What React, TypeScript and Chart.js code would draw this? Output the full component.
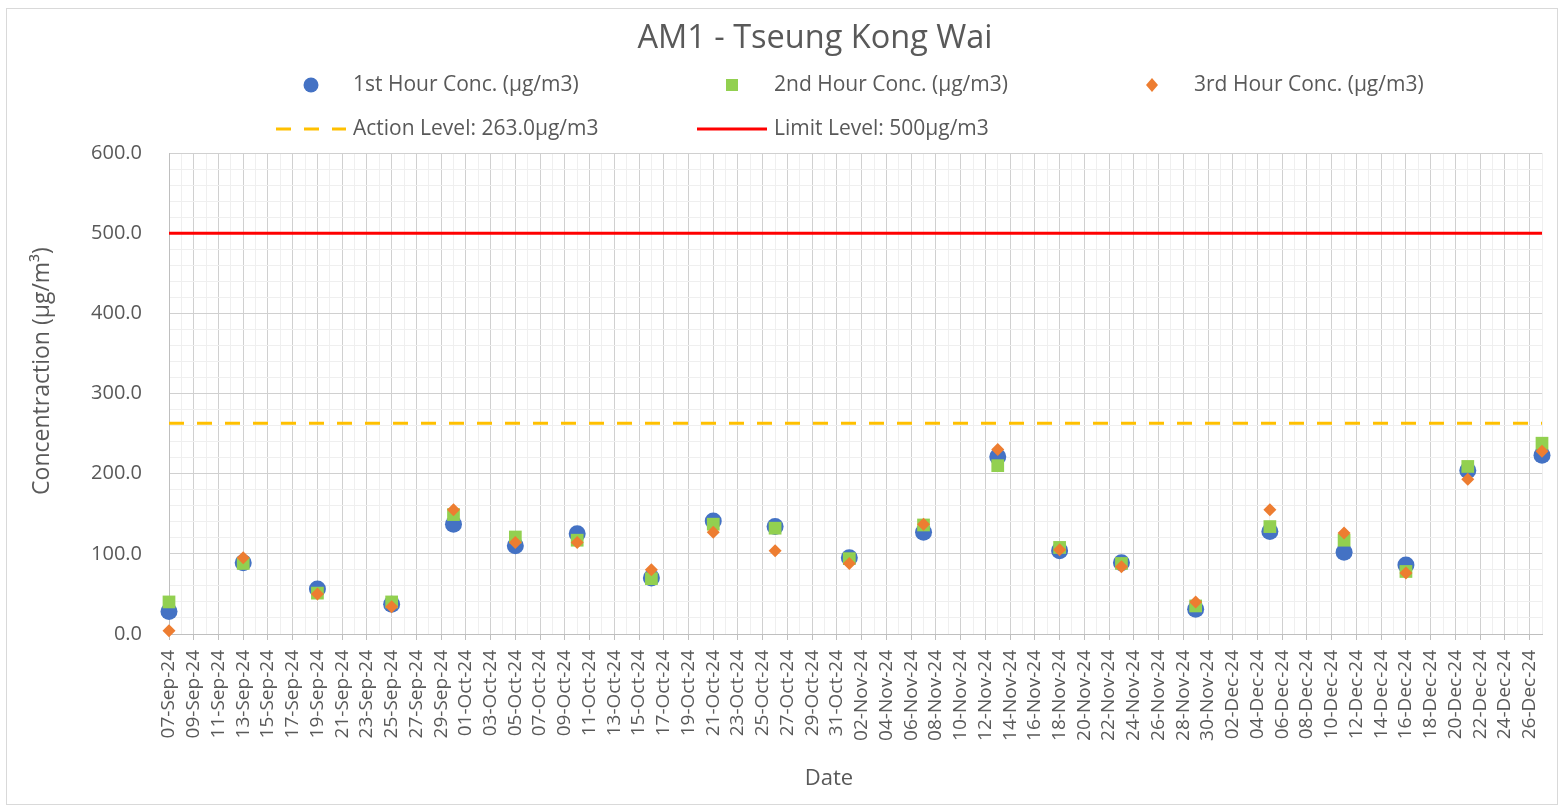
import React, { useEffect, useRef } from "react";
import { Chart, registerables } from "chart.js";

Chart.register(...registerables);

// ---------- Data ----------
const AXIS_START = "2024-09-07";
const AXIS_END = "2024-12-27";

const SAMPLE_DATES = [
  "2024-09-07", "2024-09-13", "2024-09-19", "2024-09-25", "2024-09-30",
  "2024-10-05", "2024-10-10", "2024-10-16", "2024-10-21", "2024-10-26",
  "2024-11-01", "2024-11-07", "2024-11-13", "2024-11-18", "2024-11-23",
  "2024-11-29", "2024-12-05", "2024-12-11", "2024-12-16", "2024-12-21",
  "2024-12-27",
];

const HOUR1 = [28, 89, 56, 37, 137, 110, 125, 70, 141, 134, 95, 127, 221, 104, 89, 31, 128, 102, 86, 204, 223];
const HOUR2 = [40, 88, 51, 40, 149, 121, 117, 69, 137, 132, 94, 136, 210, 108, 88, 35, 134, 117, 78, 209, 238];
const HOUR3 = [4, 95, 50, 34, 155, 114, 114, 80, 127, 104, 88, 137, 230, 105, 84, 40, 155, 126, 76, 193, 228];

const ACTION_LEVEL = 263.0;
const LIMIT_LEVEL = 500;

const SERIES_LABELS = [
  "1st Hour Conc. (µg/m3)",
  "2nd Hour Conc. (µg/m3)",
  "3rd Hour Conc. (µg/m3)",
  "Action Level: 263.0µg/m3",
  "Limit Level: 500µg/m3",
];

const Y_MIN = 0;
const Y_MAX = 600;

const TITLE = "AM1 - Tseung Kong Wai";
const X_TITLE = "Date";
const Y_TITLE = "Concentraction (µg/m³)";

const MONTHS = ["Jan", "Feb", "Mar", "Apr", "May", "Jun", "Jul", "Aug", "Sep", "Oct", "Nov", "Dec"];

// ---------- Helpers ----------
const DAY_MS = 86400000;
const startMs = Date.parse(AXIS_START + "T00:00:00Z");
const toDay = (s: string) => Math.round((Date.parse(s + "T00:00:00Z") - startMs) / DAY_MS);
const X_MAX = toDay(AXIS_END);
const fmtDay = (d: number) => {
  const dt = new Date(startMs + d * DAY_MS);
  const dd = String(dt.getUTCDate()).padStart(2, "0");
  const yy = String(dt.getUTCFullYear()).slice(2);
  return `${dd}-${MONTHS[dt.getUTCMonth()]}-${yy}`;
};

const FONT = "'Open Sans', sans-serif";
const TEXT = "#595959";
const C_BLUE = "#4472C4";
const C_GREEN = "#92D050";
const C_ORANGE = "#ED7D31";
const C_ACTION = "#FFC000";
const C_LIMIT = "#FF0000";

// text / legend layout
const TITLE_POS = { x: 815, y: 39, size: 32.5 };
const Y_TITLE_POS = { x: 42, y: 371, size: 23 };
const X_TITLE_POS = { x: 829, y: 779, size: 22 };
const LEGEND_COLS = [311, 732, 1152];
const LEGEND_ROWS = [85, 129];
const LEGEND_TEXT_OFFSET = 42;
const LEGEND_FONT = 21;

const textPlugin = {
  id: "excelText",
  afterDraw(chart: any) {
    const ctx = chart.ctx;
    ctx.save();
    ctx.fillStyle = TEXT;
    ctx.textBaseline = "middle";
    ctx.textAlign = "center";

    // title
    ctx.font = `${TITLE_POS.size}px ${FONT}`;
    ctx.fillText(TITLE, TITLE_POS.x, TITLE_POS.y);

    // axis titles
    ctx.font = `${X_TITLE_POS.size}px ${FONT}`;
    ctx.fillText(X_TITLE, X_TITLE_POS.x, X_TITLE_POS.y);
    ctx.save();
    ctx.translate(Y_TITLE_POS.x, Y_TITLE_POS.y);
    ctx.rotate(-Math.PI / 2);
    ctx.font = `${Y_TITLE_POS.size}px ${FONT}`;
    ctx.fillText(Y_TITLE, 0, 0);
    ctx.restore();

    // legend
    ctx.font = `${LEGEND_FONT}px ${FONT}`;
    ctx.textAlign = "left";
    chart.data.datasets.forEach((ds: any, i: number) => {
      const col = i % 3;
      const row = Math.floor(i / 3);
      const cx = LEGEND_COLS[col];
      const cy = LEGEND_ROWS[row];
      ctx.save();
      if (ds.showLine) {
        ctx.strokeStyle = ds.borderColor;
        ctx.lineWidth = ds.borderWidth;
        ctx.setLineDash(ds.borderDash || []);
        ctx.beginPath();
        ctx.moveTo(cx - 35, cy);
        ctx.lineTo(cx + 35, cy);
        ctx.stroke();
      } else {
        ctx.fillStyle = ds.backgroundColor;
        ctx.beginPath();
        if (ds.pointStyle === "circle") {
          ctx.arc(cx, cy, 7.5, 0, Math.PI * 2);
        } else if (ds.pointStyle === "rect") {
          ctx.rect(cx - 6, cy - 6, 12, 12);
        } else {
          ctx.moveTo(cx, cy - 7);
          ctx.lineTo(cx + 6, cy);
          ctx.lineTo(cx, cy + 7);
          ctx.lineTo(cx - 6, cy);
          ctx.closePath();
        }
        ctx.fill();
      }
      ctx.restore();
      ctx.fillText(ds.label, cx + LEGEND_TEXT_OFFSET, cy);
    });
    ctx.restore();
  },
};

export default function App() {
  const canvasRef = useRef<HTMLCanvasElement | null>(null);

  useEffect(() => {
    if (!canvasRef.current) return;
    const pts = (vals: number[]) => SAMPLE_DATES.map((d, i) => ({ x: toDay(d), y: vals[i] }));
    const level = (v: number) => [{ x: 0, y: v }, { x: X_MAX, y: v }];

    const chart = new Chart(canvasRef.current, {
      type: "scatter",
      data: {
        datasets: [
          {
            label: SERIES_LABELS[0], data: pts(HOUR1), pointStyle: "circle",
            pointRadius: 8.5, backgroundColor: C_BLUE, borderColor: C_BLUE, borderWidth: 0, order: 3, clip: false,
          },
          {
            label: SERIES_LABELS[1], data: pts(HOUR2), pointStyle: "rect",
            pointRadius: 9, backgroundColor: C_GREEN, borderColor: C_GREEN, borderWidth: 0, order: 2, clip: false,
          },
          {
            label: SERIES_LABELS[2], data: pts(HOUR3), pointStyle: "rectRot",
            pointRadius: 6.5, backgroundColor: C_ORANGE, borderColor: C_ORANGE, borderWidth: 0, order: 1, clip: false,
          },
          {
            label: SERIES_LABELS[3], data: level(ACTION_LEVEL), showLine: true, pointRadius: 0,
            borderColor: C_ACTION, backgroundColor: C_ACTION, borderWidth: 3, borderDash: [15, 13], order: 5,
          },
          {
            label: SERIES_LABELS[4], data: level(LIMIT_LEVEL), showLine: true, pointRadius: 0,
            borderColor: C_LIMIT, backgroundColor: C_LIMIT, borderWidth: 3, order: 4,
          },
        ] as any,
      },
      options: {
        responsive: false,
        animation: false,
        events: [],
        layout: { padding: { left: 8, right: 22, top: 153, bottom: 10 } },
        plugins: {
          legend: { display: false },
          tooltip: { enabled: false },
          title: { display: false },
        },
        scales: {
          x: {
            type: "linear",
            min: 0,
            max: X_MAX,
            afterFit: (s: any) => { s.height = 167; s.paddingLeft = 0; s.paddingRight = 0; },
            border: { display: true, color: "#bfbfbf", width: 1 },
            grid: {
              color: (c: any) => (c.tick && c.tick.value % 2 === 0 ? "#d0d0d0" : "#efefef"),
              tickColor: (c: any) => (c.tick && c.tick.value % 2 === 0 ? "#bfbfbf" : "rgba(0,0,0,0)"),
              tickLength: 6,
              drawTicks: true,
            },
            ticks: {
              stepSize: 1,
              maxTicksLimit: 500,
              autoSkip: false,
              minRotation: 90,
              maxRotation: 90,
              padding: 10,
              color: TEXT,
              font: { family: FONT, size: 19 },
              callback: (v: any) => (Number(v) % 2 === 0 ? fmtDay(Number(v)) : ""),
            },
            title: { display: false },
          },
          y: {
            type: "linear",
            min: Y_MIN,
            max: Y_MAX,
            afterFit: (s: any) => { s.width = 161; s.paddingTop = 0; s.paddingBottom = 0; },
            border: { display: true, color: "#bfbfbf", width: 1 },
            grid: {
              color: (c: any) => (c.tick && c.tick.value % 100 === 0 ? "#d0d0d0" : "#efefef"),
              drawTicks: false,
            },
            ticks: {
              stepSize: 20,
              maxTicksLimit: 500,
              autoSkip: false,
              padding: 27,
              color: TEXT,
              font: { family: FONT, size: 20 },
              callback: (v: any) => (Number(v) % 100 === 0 ? Number(v).toFixed(1) : ""),
            },
            title: { display: false },
          },
        },
      },
      plugins: [textPlugin],
    } as any);
    return () => chart.destroy();
  }, []);

  return (
    <div style={{ position: "fixed", left: 0, top: 0, width: 1564, height: 811, background: "#fff" }}>
      <div
        style={{
          position: "absolute", left: 6, top: 8, width: 1552, height: 797,
          border: "1px solid #d9d9d9", boxSizing: "border-box",
        }}
      />
      <canvas ref={canvasRef} width={1564} height={811} style={{ position: "absolute", left: 0, top: 0 }} />
    </div>
  );
}
